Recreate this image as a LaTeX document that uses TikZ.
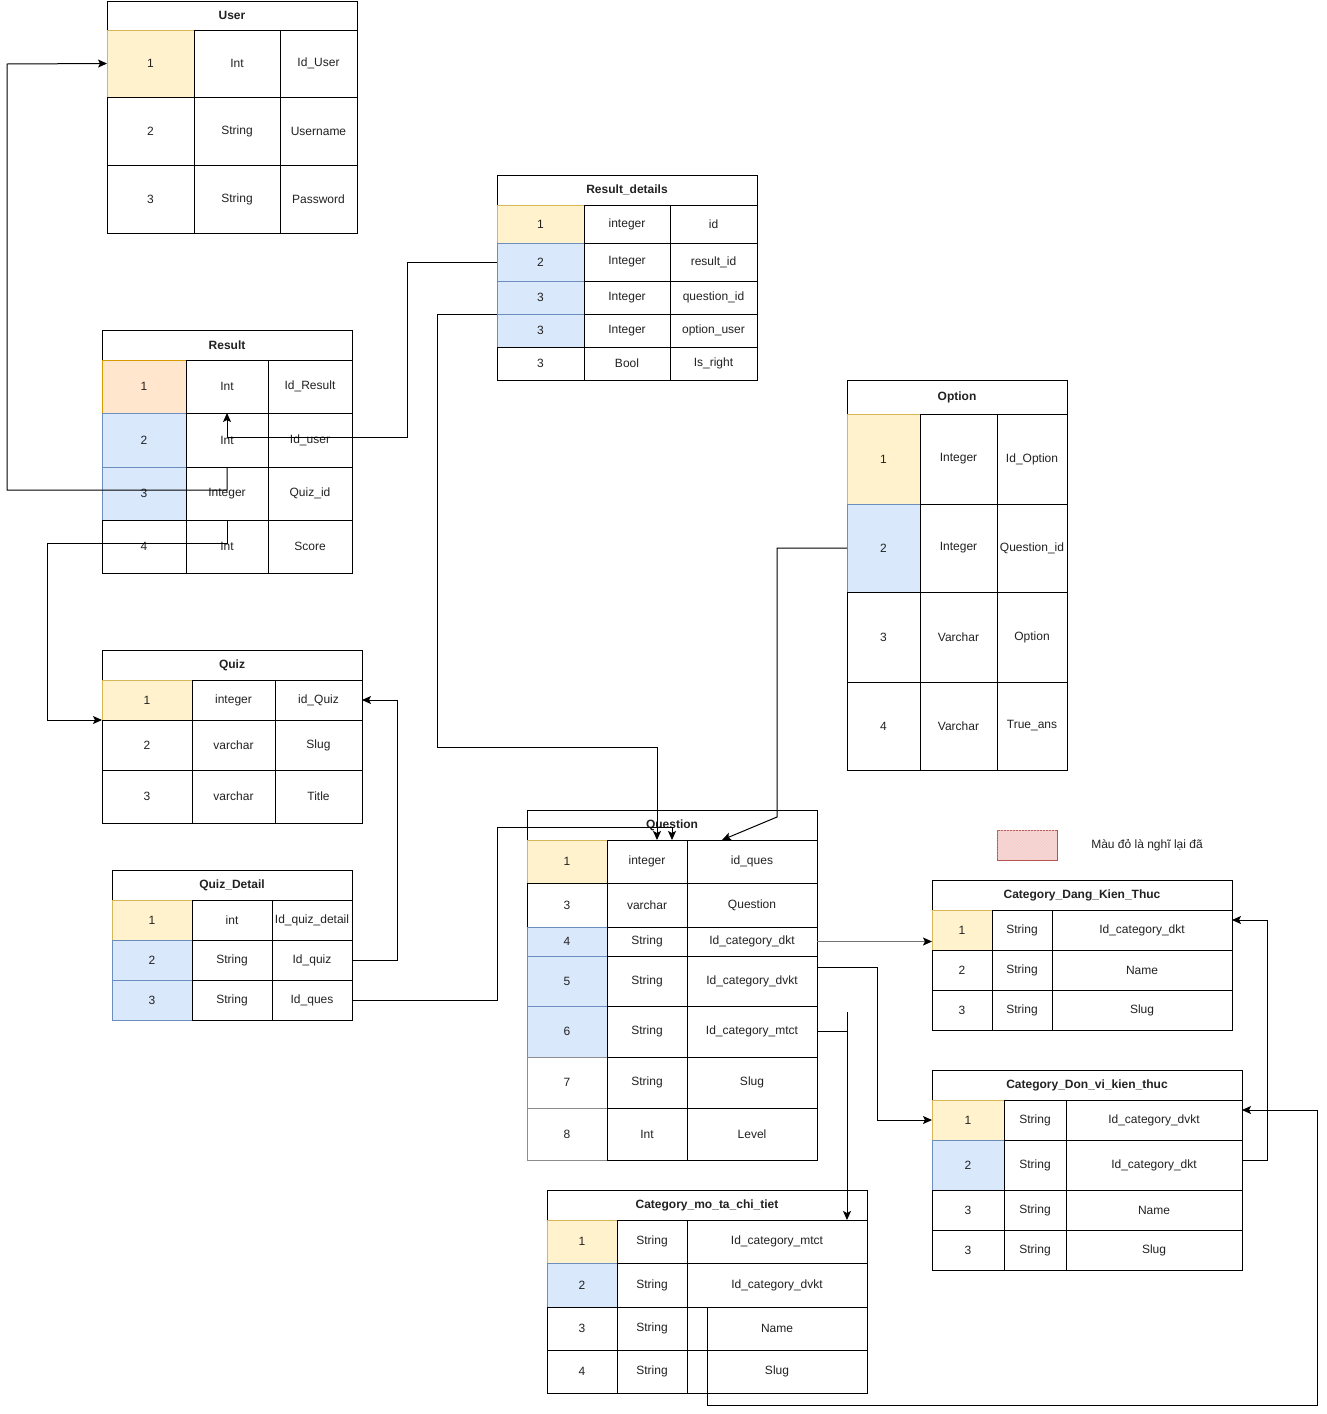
\documentclass[tikz,border=0pt]{standalone}
\usepackage{fontspec}
\setmainfont{Liberation Sans}
\usetikzlibrary{arrows.meta,patterns}

\definecolor{pkfill}{HTML}{FFF2CC}\definecolor{pkline}{HTML}{D6B656}
\definecolor{fkfill}{HTML}{DAE8FC}\definecolor{fkline}{HTML}{6C8EBF}
\definecolor{idfill}{HTML}{FFE6CC}\definecolor{idline}{HTML}{D79B00}
\definecolor{notefill}{HTML}{F8CECC}\definecolor{noteline}{HTML}{B85450}
\definecolor{txt}{HTML}{222222}

\tikzset{
  cell/.style={draw=black, line width=1pt, fill=white, inner sep=0pt, outer sep=0pt,
    font=\fontsize{12}{14}\selectfont, text=txt},
  tabhead/.style={font=\fontsize{12}{14}\selectfont\bfseries},
  pkcell/.style={fill=pkfill, draw=pkline},
  fkcell/.style={fill=fkfill, draw=fkline},
  idcell/.style={fill=idfill, draw=idline},
  gcell/.style={draw=black!45},
  conn/.style={line width=1pt, -{Stealth[length=9pt,width=8pt,inset=2pt]}},
  plain/.style={line width=1pt},
}

% one cell: [style]{name}{x1}{y1}{x2}{y2}{text}
\newcommand{\dbcell}[7][]{%
  \node[cell,#1,minimum width={(#5-#3)*1pt},minimum height={(#6-#4)*1pt}]
    (#2) at ({(#3+#5)/2},{(#4+#6)/2}) {#7};}
% column borders of the current table
\newcommand{\setcols}[4]{\def\cA{#1}\def\cB{#2}\def\cC{#3}\def\cD{#4}}
% one table row: [style of key cell]{name}{ytop}{ybottom}{key}{type}{field}
\newcommand{\dbrow}[7][]{%
  \dbcell[#1]{#2a}{\cA}{#3}{\cB}{#4}{#5}%
  \dbcell{#2b}{\cB}{#3}{\cC}{#4}{#6}%
  \dbcell{#2c}{\cC}{#3}{\cD}{#4}{#7}}
\newcommand{\dbhead}[4]{\dbcell[tabhead]{#1}{\cA}{#2}{\cD}{#3}{#4}}

\begin{document}
\begin{tikzpicture}[x=1pt,y=-1pt]
\useasboundingbox[fill=white] (0,0) rectangle (1326,1414);

% ---- User
\setcols{107}{194}{280}{357}
\dbhead{user}{1}{30}{User}
\dbrow[pkcell]{u1}{30}{97}{1}{Int}{Id\_User}
\dbrow{u2}{97}{165}{2}{String}{Username}
\dbrow{u3}{165}{233}{3}{String}{Password}

% ---- Result
\setcols{102}{186}{268}{352}
\dbhead{result}{330}{360}{Result}
\dbrow[idcell]{r1}{360}{413}{1}{Int}{Id\_Result}
\dbrow[fkcell]{r2}{413}{467}{2}{Int}{Id\_user}
\dbrow[fkcell]{r3}{467}{520}{3}{Integer}{Quiz\_id}
\dbrow{r4}{520}{573}{4}{Int}{Score}

% ---- Result_details
\setcols{497}{584}{670}{757}
\dbhead{rdet}{175}{205}{Result\_details}
\dbrow[pkcell]{rd1}{205}{243}{1}{integer}{id}
\dbrow[fkcell]{rd2}{243}{281}{2}{Integer}{result\_id}
\dbrow[fkcell]{rd3}{281}{314}{3}{Integer}{question\_id}
\dbrow[fkcell]{rd4}{314}{347}{3}{Integer}{option\_user}
\dbrow{rd5}{347}{380}{3}{Bool}{Is\_right}

% ---- Option
\setcols{847}{920}{997}{1067}
\dbhead{option}{380}{414}{Option}
\dbrow[pkcell]{op1}{414}{504}{1}{Integer}{Id\_Option}
\dbrow[fkcell]{op2}{504}{592}{2}{Integer}{Question\_id}
\dbrow{op3}{592}{682}{3}{Varchar}{Option}
\dbrow{op4}{682}{770}{4}{Varchar}{True\_ans}

% ---- Quiz
\setcols{102}{192}{275}{362}
\dbhead{quiz}{650}{680}{Quiz}
\dbrow[pkcell]{qz1}{680}{720}{1}{integer}{id\_Quiz}
\dbrow{qz2}{720}{770}{2}{varchar}{Slug}
\dbrow{qz3}{770}{823}{3}{varchar}{Title}

% ---- Quiz_Detail
\setcols{112}{192}{272}{352}
\dbhead{qdet}{870}{900}{Quiz\_Detail}
\dbrow[pkcell]{qd1}{900}{940}{1}{int}{Id\_quiz\_detail}
\dbrow[fkcell]{qd2}{940}{980}{2}{String}{Id\_quiz}
\dbrow[fkcell]{qd3}{980}{1020}{3}{String}{Id\_ques}

% ---- Question
\setcols{527}{607}{687}{817}
\dbhead{question}{810}{840}{Question}
\dbrow[pkcell]{qn1}{840}{883}{1}{integer}{id\_ques}
\dbrow{qn3}{883}{927}{3}{varchar}{Question}
\dbrow[fkcell]{qn4}{927}{956}{4}{String}{Id\_category\_dkt}
\dbrow[fkcell]{qn5}{956}{1006}{5}{String}{Id\_category\_dvkt}
\dbrow[fkcell]{qn6}{1006}{1057}{6}{String}{Id\_category\_mtct}
\dbrow[gcell]{qn7}{1057}{1108}{7}{String}{Slug}
\dbrow[gcell]{qn8}{1108}{1160}{8}{Int}{Level}

% ---- Category_Dang_Kien_Thuc
\setcols{932}{992}{1052}{1232}
\dbhead{catdkt}{880}{910}{Category\_Dang\_Kien\_Thuc}
\dbrow[pkcell]{dk1}{910}{950}{1}{String}{Id\_category\_dkt}
\dbrow{dk2}{950}{990}{2}{String}{Name}
\dbrow{dk3}{990}{1030}{3}{String}{Slug}

% ---- Category_Don_vi_kien_thuc
\setcols{932}{1004}{1066}{1242}
\dbhead{catdvkt}{1070}{1100}{Category\_Don\_vi\_kien\_thuc}
\dbrow[pkcell]{dv1}{1100}{1140}{1}{String}{Id\_category\_dvkt}
\dbrow[fkcell]{dv2}{1140}{1190}{2}{String}{Id\_category\_dkt}
\dbrow{dv3}{1190}{1230}{3}{String}{Name}
\dbrow{dv4}{1230}{1270}{3}{String}{Slug}

% ---- Category_mo_ta_chi_tiet
\setcols{547}{617}{687}{867}
\dbhead{catmtct}{1190}{1220}{Category\_mo\_ta\_chi\_tiet}
\dbrow[pkcell]{mt1}{1220}{1263}{1}{String}{Id\_category\_mtct}
\dbrow[fkcell]{mt2}{1263}{1307}{2}{String}{Id\_category\_dvkt}
\dbrow{mt3}{1307}{1350}{3}{String}{Name}
\dbrow{mt4}{1350}{1393}{4}{String}{Slug}

% ---- legend
\node[draw=noteline, fill=notefill, line width=1pt, minimum width=60pt, minimum height=30pt,
  inner sep=0pt] (legbox) at (1027,845) {};
\fill[pattern=north east lines, pattern color=noteline!20] ([shift={(1,-1)}]legbox.south west) rectangle ([shift={(-1,1)}]legbox.north east);
\node[font=\fontsize{12}{14}\selectfont, text=txt] (legtext) at (1147,845) {Màu đỏ là nghĩ lại đã};

% ---- connectors
\coordinate (qinA) at (657,840);
\coordinate (qinB) at (672,840);
\coordinate (qinC) at (722,840);
\draw[conn] (r2b.south) -- (227,490) -- (7,490) -- (7,64) -- (u1a.west);
\draw[conn] (rd2a.west) -- (407,262) -- (407,437) -- (227,437) -- (r1b.south);
\draw[conn] (r4b.north) -- (227,543) -- (47,543) -- (47,720) -- (qz1a.south west);
\draw[conn] (rd3a.south west) -- (437,314) -- (437,747) -- (657,747) -- (qinA);
\draw[conn] (qd3c.east) -- (497,1000) -- (497,827) -- (672,827) -- (qinB);
\draw[conn] (op2a.west) -- (777,548) -- (777,817) -- (qinC);
\draw[conn] (qd2c.east) -- (397,960) -- (397,700) -- (qz1c.east);
\draw[conn, draw=black!55, -{Stealth[length=9pt,width=8pt,inset=2pt,color=black]}] (qn4c.east) -- (qn4c.east -| dk1a.west);
\draw[conn] (817,967) -- (877,967) -- (877,1120) -- (dv1a.west);
\draw[plain] (qn6c.east) -- (847,1031.5);
\draw[conn] (847,1012) -- (847,1220);
\draw[conn] (dv2c.east |- 0,1160) -- (1267,1160) -- (1267,920) -- (1232,920);
\draw[plain] (707,1307) -- (707,1405) -- (1317,1405) -- (1317,1110);
\draw[conn] (1317,1110) -- (1242,1110);
\end{tikzpicture}
\end{document}
